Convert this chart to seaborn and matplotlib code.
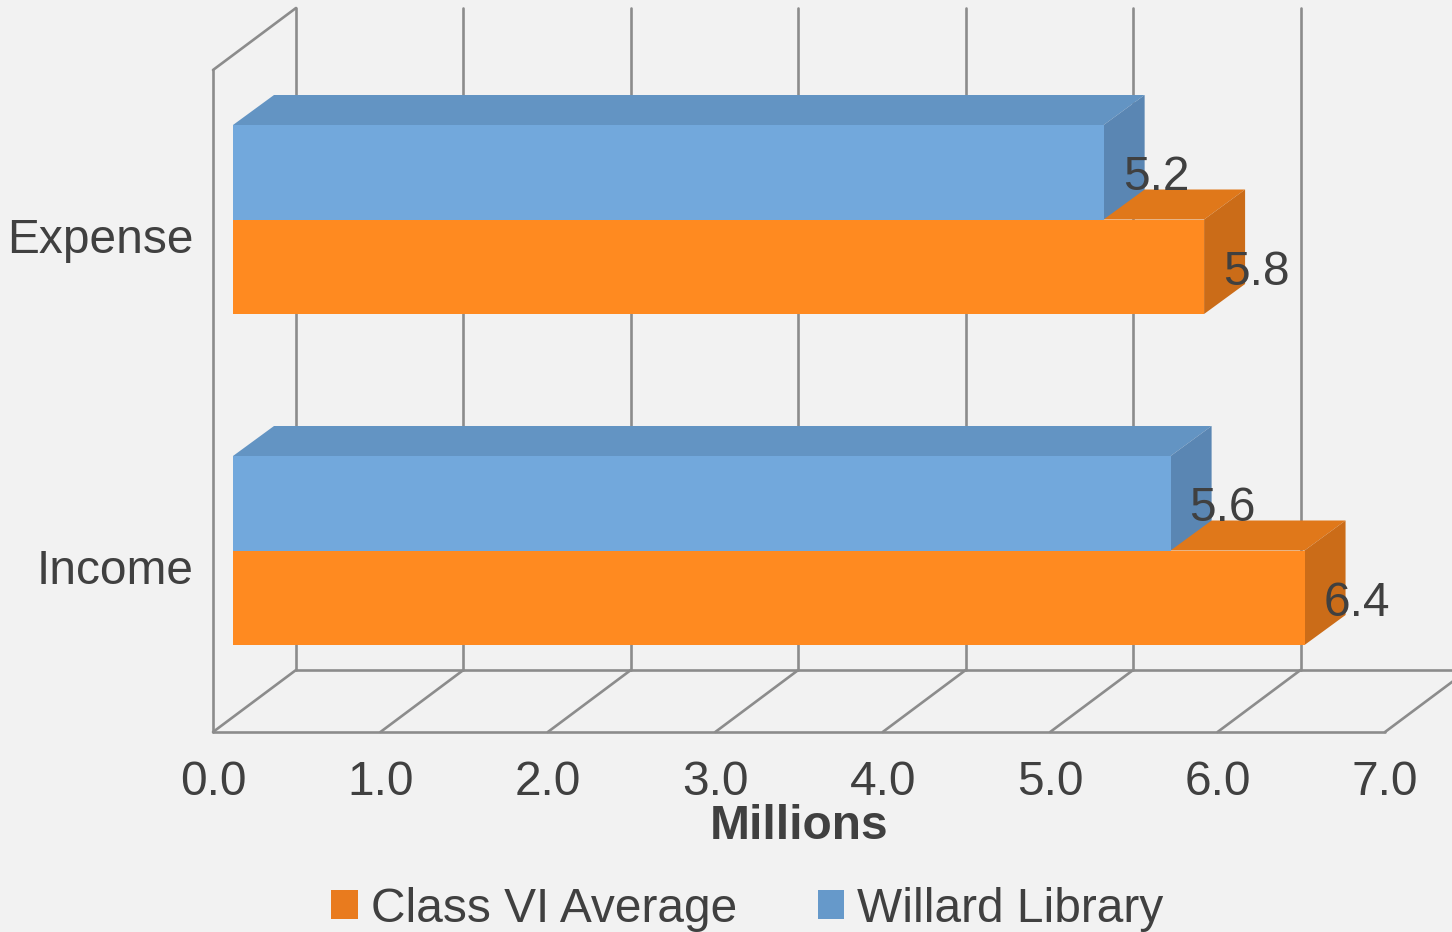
import pandas as pd
import seaborn as sns
import matplotlib.pyplot as plt
from matplotlib.patches import Polygon, Patch

# data (millions)
categories = ['Expense', 'Income']
series_names = ['Willard Library', 'Class VI Average']
willard = [5.2, 5.6]
class_vi = [5.8, 6.4]
x_ticks = [0, 1, 2, 3, 4, 5, 6, 7]

df = pd.DataFrame({
    'Category': categories * 2,
    'Series': [series_names[0]] * 2 + [series_names[1]] * 2,
    'Value': willard + class_vi,
})

sns.set_theme(style='white')
plt.rcParams['font.family'] = ['Liberation Sans', 'DejaVu Sans']

bg = '#F2F2F2'
txt = '#404040'
grid = '#8C8C8C'
fs = 34.5
front = {'Willard Library': '#72A8DC', 'Class VI Average': '#FF8A20'}
top = {'Willard Library': '#6394C3', 'Class VI Average': '#E0781A'}
side = {'Willard Library': '#5A86B3', 'Class VI Average': '#CB6C18'}

fig = plt.figure(figsize=(14.52, 9.32), dpi=100)
fig.patch.set_facecolor(bg)
ax = fig.add_axes([0, 0, 1, 1])
ax.set_facecolor(bg)

# pixel -> data scale
sx = 167.43
sy = 331.0
ax.set_xlim(-213 / sx, (1452 - 213) / sx)


def py(p):
    return (p - 219.5) / sy


sns.barplot(data=df, y='Category', x='Value', hue='Series', order=categories,
            hue_order=series_names, palette=front, width=0.571, orient='h',
            saturation=1, ax=ax, legend=False)
ax.set_ylim(py(932), py(0))
ax.set_axis_off()

# 3d walls and floor
gx, gy = 83 / sx, 62 / sy
floor_f, floor_b, wall_top = py(732), py(670), py(8)
lw = 1.9
ax.plot([0, 7], [floor_f, floor_f], color=grid, lw=lw, zorder=1)
ax.plot([gx, 8], [floor_b, floor_b], color=grid, lw=lw, zorder=1)
ax.plot([0, 0], [floor_f, py(70)], color=grid, lw=lw, zorder=1)
ax.plot([0, gx], [py(70), wall_top], color=grid, lw=lw, zorder=1)
for k in x_ticks:
    ax.plot([k, k + gx], [floor_f, floor_b], color=grid, lw=lw, zorder=1)
    if k < 7:
        ax.plot([k + gx, k + gx], [floor_b, wall_top], color=grid, lw=lw, zorder=1)
    ax.text(k, py(795), f'{k:.1f}', ha='center', va='baseline',
            fontsize=fs, color=txt)

ax.text(3.5, py(839), 'Millions', ha='center', va='baseline',
        fontsize=fs, fontweight='bold', color=txt)

# category labels
for i, c in enumerate(categories):
    ax.text(-19 / sx, i + 33.5 / sy, c, ha='right', va='baseline',
            fontsize=fs, color=txt)

# bar depth faces
shift = 20 / sx
dx, dy = 41 / sx, 30 / sy
for bar in ax.patches:
    if bar.get_width() <= 0:
        continue
    col = bar.get_facecolor()
    name = series_names[0] if abs(col[2] - 0xDC / 255) < 0.02 else series_names[1]
    z = 3 if name == series_names[0] else 2
    bar.set_x(bar.get_x() + shift)
    bar.set_edgecolor('none')
    bar.set_zorder(z + 0.1)
    x0, w = bar.get_x(), bar.get_width()
    y0, h = bar.get_y(), bar.get_height()
    x1 = x0 + w
    ax.add_patch(Polygon([(x0, y0), (x1, y0), (x1 + dx, y0 - dy), (x0 + dx, y0 - dy)],
                         closed=True, facecolor=top[name], edgecolor='none', zorder=z))
    ax.add_patch(Polygon([(x1, y0), (x1, y0 + h), (x1 + dx, y0 + h - dy), (x1 + dx, y0 - dy)],
                         closed=True, facecolor=side[name], edgecolor='none', zorder=z))
    ax.text(x1 + 19 / sx, y0 + h / 2 + 18 / sy, f'{bar.get_width():.1f}',
            ha='left', va='baseline', fontsize=fs, color=txt, zorder=5)

handles = [Patch(facecolor='#E97B1E', edgecolor='none', label='Class VI Average'),
           Patch(facecolor='#6699CA', edgecolor='none', label='Willard Library')]
fig.legend(handles=handles, loc='center', bbox_to_anchor=(747.5 / 1452, 1 - 909 / 932),
           ncol=2, frameon=False, fontsize=fs, handlelength=0.56, handleheight=0.56,
           handletextpad=0.27, columnspacing=1.67, labelcolor=txt)

fig.savefig('out.png', dpi=100, facecolor=bg)
